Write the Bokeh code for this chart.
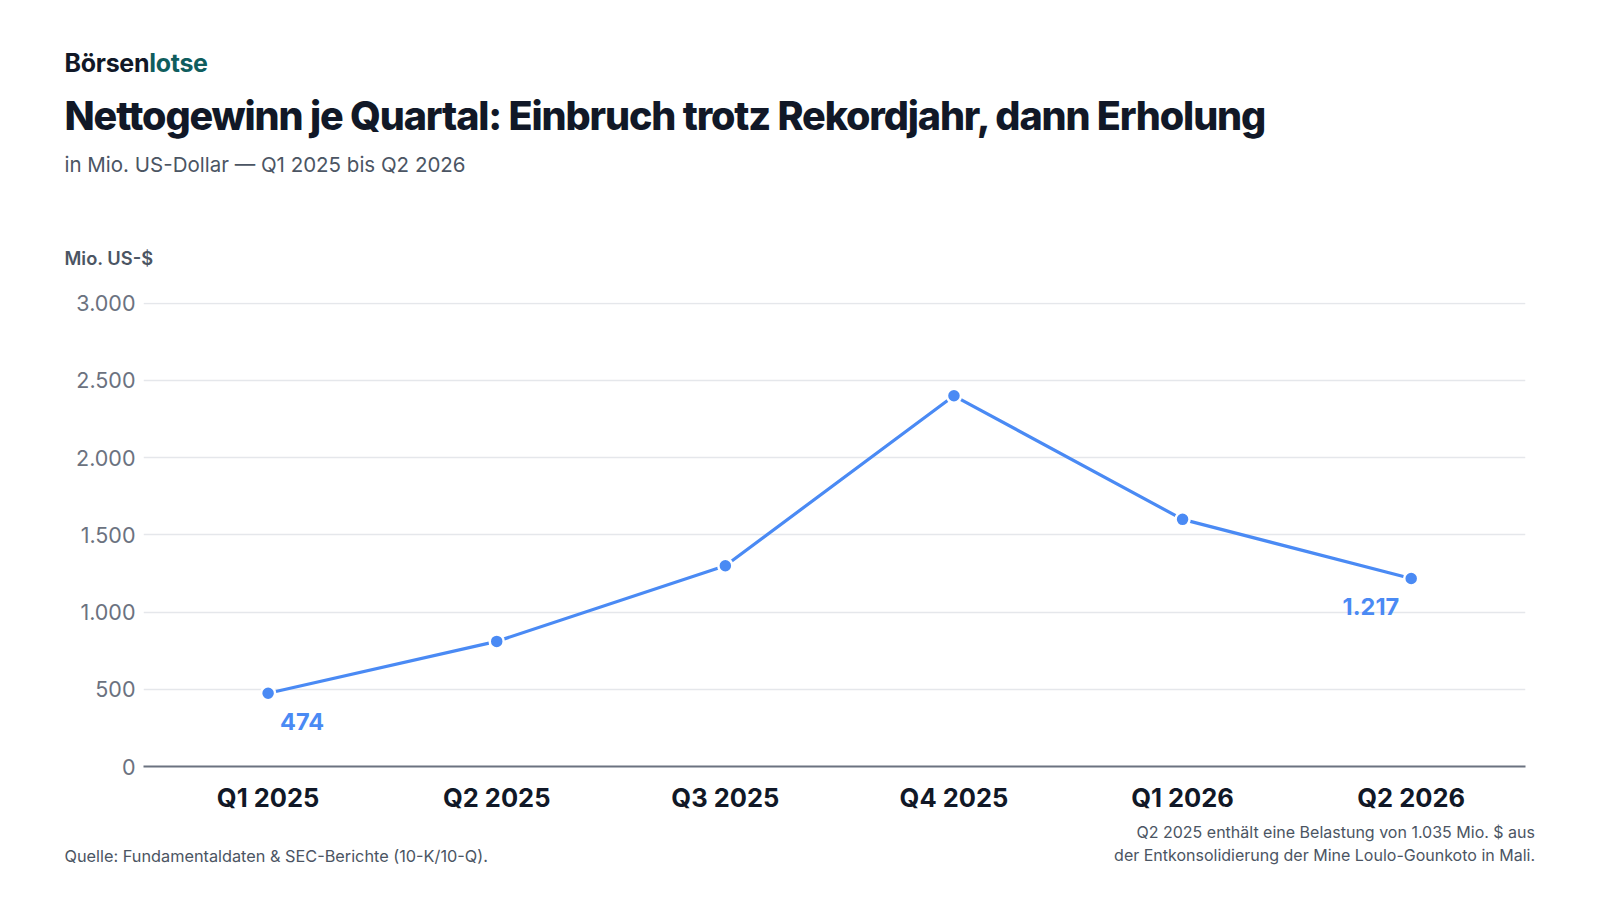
from bokeh.plotting import figure
from bokeh.models import Label, Range1d, FixedTicker, Div
from bokeh.layouts import column
from bokeh.embed import file_html
from bokeh.resources import INLINE

# Nettogewinn je Quartal in Mio. US-$
quartale = ["Q1 2025", "Q2 2025", "Q3 2025", "Q4 2025", "Q1 2026", "Q2 2026"]
gewinn = [474, 810, 1300, 2400, 1600, 1217]
y_ticks = [0, 500, 1000, 1500, 2000, 2500, 3000]

FONT = "Inter"
BLUE = "#4a8af4"
DARK = "#111827"
GRAY = "#4b5563"
W = 1584


def de(n):
    # German thousands separator
    return f"{n:,}".replace(",", ".")


def span(left, top, text, size, color, weight=400, lh=None, extra=""):
    lh = lh or round(size * 1.25)
    return (f'<div style="position:absolute;left:{left}px;top:{top}px;'
            f'font-family:{FONT};font-size:{size}px;line-height:{lh}px;'
            f'font-weight:{weight};color:{color};white-space:nowrap;{extra}">'
            f'{text}</div>')


header_html = (
    '<div style="position:relative;width:%dpx;height:282px">' % W
    + span(64.5, 47.5, 'Börsen<span style="color:#0f5d5e">lotse</span>',
           25, DARK, 700, 30, "letter-spacing:-0.3px")
    + span(64.5, 91.6, "Nettogewinn je Quartal: Einbruch trotz Rekordjahr, dann Erholung",
           39.5, DARK, 800, 48, "letter-spacing:-1.15px")
    + span(64.5, 151.5, "in Mio. US-Dollar — Q1 2025 bis Q2 2026", 20.5, GRAY, 400, 26)
    + span(64.5, 247.4, "Mio. US-$", 18.3, GRAY, 600, 22)
    + '</div>'
)
header = Div(text=header_html, width=W, height=282, margin=0)

x_idx = list(range(len(quartale)))

p = figure(width=W, height=20 + 464 + 50,
           x_range=Range1d(-0.545, len(quartale) - 0.5),
           y_range=Range1d(0, 3004),
           output_backend="svg", toolbar_location=None,
           min_border_left=143, min_border_right=59,
           min_border_top=20, min_border_bottom=50)
p.outline_line_color = None
p.background_fill_color = "white"
p.border_fill_color = "white"

# axes
p.xaxis.ticker = FixedTicker(ticks=x_idx)
p.xaxis.major_label_overrides = {i: q for i, q in zip(x_idx, quartale)}
p.xaxis.major_label_text_font = FONT
p.xaxis.major_label_text_font_size = "25.5px"
p.xaxis.major_label_text_font_style = "bold"
p.xaxis.major_label_text_color = DARK
p.xaxis.major_label_standoff = 15
p.xaxis.axis_line_color = "#6b7280"
p.xaxis.axis_line_width = 2
p.xaxis.major_tick_line_color = None
p.xaxis.major_tick_out = 0
p.xaxis.minor_tick_line_color = None

p.yaxis.ticker = FixedTicker(ticks=y_ticks)
p.yaxis.major_label_overrides = {t: de(t) for t in y_ticks}
p.yaxis.major_label_text_font = FONT
p.yaxis.major_label_text_font_size = "21.5px"
p.yaxis.major_label_text_color = "#6b7280"
p.yaxis.major_label_standoff = 8
p.yaxis.axis_line_color = None
p.yaxis.major_tick_line_color = None
p.yaxis.major_tick_out = 0
p.yaxis.minor_tick_line_color = None

p.xgrid.grid_line_color = None
p.ygrid.grid_line_color = "#e5e7eb"
p.ygrid.grid_line_width = 1.5

# series
p.line(x_idx, gewinn, line_color=BLUE, line_width=3.2)
p.scatter(x_idx, gewinn, size=14, fill_color=BLUE,
          line_color="white", line_width=2.5)

# value labels for first and last quarter
p.add_layout(Label(x=x_idx[0], y=gewinn[0], text=de(gewinn[0]),
                   x_offset=12, y_offset=-28, text_baseline="middle",
                   text_align="left", text_font=FONT,
                   text_font_size="23.5px", text_font_style="bold",
                   text_color=BLUE))
p.add_layout(Label(x=x_idx[-1], y=gewinn[-1], text=de(gewinn[-1]),
                   x_offset=-12, y_offset=-28, text_baseline="middle",
                   text_align="right", text_font=FONT,
                   text_font_size="23.5px", text_font_style="bold",
                   text_color=BLUE))

footer_html = (
    '<div style="position:relative;width:%dpx;height:60px">' % W
    + span(64.5, 28.8, "Quelle: Fundamentaldaten &amp; SEC-Berichte (10-K/10-Q).",
           16.3, GRAY, 400, 22)
    + span(0, 4.7, "Q2 2025 enthält eine Belastung von 1.035 Mio. $ aus<br>"
           "der Entkonsolidierung der Mine Loulo-Gounkoto in Mali.",
           16, GRAY, 400, 23.4, "left:auto;right:49px;text-align:right")
    + '</div>'
)
footer = Div(text=footer_html, width=W, height=60, margin=0)

layout = column(header, p, footer, spacing=0)

open("out.html", "w").write(file_html(layout, INLINE))
